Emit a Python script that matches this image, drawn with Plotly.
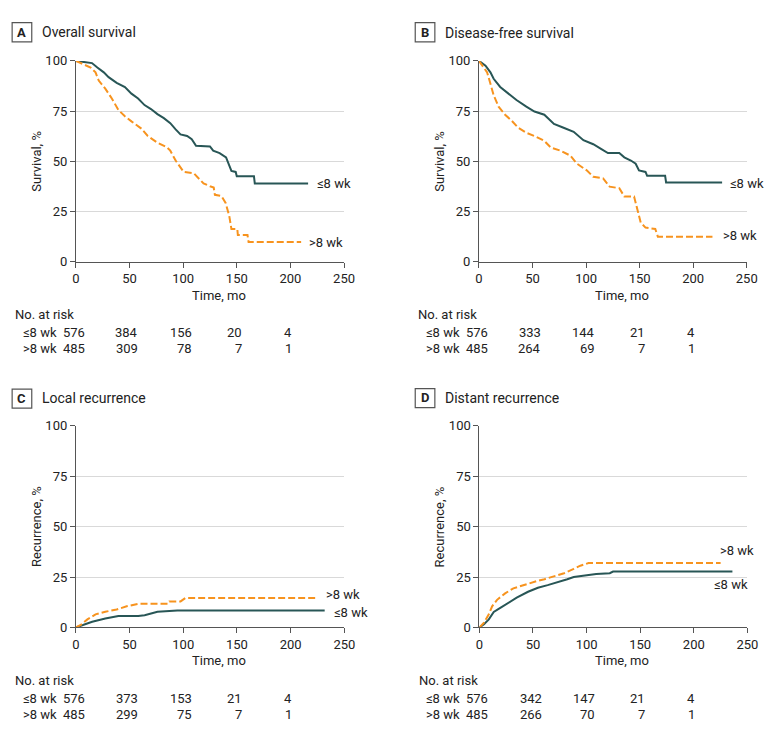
import plotly.graph_objects as go

W, H = 780, 741
FONT = "Roboto"
TXT = "#222222"
C_LE8 = "#285656"
C_GT8 = "#f7931e"

# ---------------- data ----------------
os_le8_t = [0, 9, 15, 20, 26, 30.5, 38, 45.7, 51.8, 58, 64, 70, 76, 82, 88, 93, 97.5, 103.7, 108, 112, 125, 128, 134, 140, 142.7, 145, 149, 150, 166, 166.8, 216.5]
os_le8_s = [100, 99.5, 98.9, 96.7, 94.3, 91.9, 89.1, 87, 83.7, 81.3, 78, 76, 73.5, 71.5, 69, 65.9, 63.4, 62.6, 61, 57.7, 57.4, 55.3, 54.1, 52, 48.8, 45.2, 44.7, 42.6, 42.6, 39, 39]
os_gt8_t = [0, 6, 13.7, 18.3, 21.3, 27.4, 33.5, 39.6, 45.7, 51.8, 61, 67, 76, 85, 88, 93, 99, 100.5, 110, 114.3, 119, 125, 128.5, 129.6, 135.7, 139.6, 143, 145, 150.5, 151, 160, 161, 210]
os_gt8_s = [100, 98.4, 96.7, 94.3, 90.2, 86.2, 81.3, 75.6, 72.4, 69.9, 66.3, 62.6, 59.3, 56.9, 55.3, 50.4, 46.3, 44.7, 44.0, 41.5, 39, 37.6, 37.0, 33.3, 32.7, 29.3, 22.8, 16.3, 16.3, 13.3, 13.3, 9.8, 9.8]

dfs_le8_t = [0, 6.1, 10.7, 13.7, 19.8, 27.4, 35, 44.2, 51.8, 61, 70, 79, 88.4, 97.5, 106.7, 114.3, 120.4, 131, 135.7, 141.8, 146.3, 149.4, 155.5, 157, 173.8, 174.7, 227]
dfs_le8_s = [100, 97.6, 94.3, 91.1, 87, 83.7, 80.5, 77.2, 74.8, 73.2, 68.6, 66.7, 64.7, 60.5, 58.5, 56.1, 54.1, 54.1, 52, 50.4, 48.8, 45.5, 44.7, 42.8, 42.8, 39.5, 39.5]
dfs_gt8_t = [0, 7.6, 10.7, 13.7, 18.3, 24.4, 30.5, 36.6, 44.2, 51.8, 61, 67, 76.2, 85.4, 91.5, 100.6, 106.7, 115.9, 122, 131, 135.7, 144.8, 147.9, 151, 155.5, 164.6, 167, 218]
dfs_gt8_s = [100, 94.3, 88.6, 82.9, 77.2, 73.2, 70.2, 66.7, 64.2, 62.6, 60.2, 56.9, 55.3, 52.8, 48.8, 45.5, 42.3, 41.5, 37.4, 36.6, 32.5, 32.5, 26, 19.5, 17, 16.3, 12.5, 12.5]

lr_le8_t = [0, 6.1, 15.2, 27.4, 39.6, 58, 64, 76, 91.5, 94.5, 231.7]
lr_le8_s = [0, 1.1, 2.8, 4.4, 5.7, 5.7, 6.1, 7.8, 8.1, 8.4, 8.4]
lr_gt8_t = [0, 4.6, 10.7, 18.3, 27.4, 38, 47.3, 58, 85.4, 87, 97.5, 102, 225.6]
lr_gt8_s = [0, 1.3, 4, 6.5, 7.8, 8.9, 10.5, 11.7, 11.7, 12.9, 12.9, 14.6, 14.6]

dr_le8_t = [0, 4.3, 8.8, 13.4, 19.5, 27.1, 34.8, 45.4, 54.6, 63.7, 72.9, 82, 88, 97.3, 109, 121.6, 124.7, 236]
dr_le8_s = [0, 1.6, 4, 7.7, 9.7, 12.1, 14.8, 17.7, 19.7, 21, 22.3, 23.9, 25, 25.8, 26.5, 26.9, 27.7, 27.7]
dr_gt8_t = [0, 4.3, 8.8, 11.9, 16.5, 24, 31.7, 42.4, 53, 60.7, 69.8, 79, 88, 94.2, 101.8, 225]
dr_gt8_s = [0, 2.4, 6.5, 10.5, 13.7, 16.9, 19.4, 21.3, 22.9, 23.9, 25.5, 26.9, 29, 30.6, 31.9, 31.9]

x_ticks = [0, 50, 100, 150, 200, 250]
y_ticks = [0, 25, 50, 75, 100]
risk_times = [0, 50, 100, 150, 200]
os_risk_le8 = [576, 384, 156, 20, 4]
os_risk_gt8 = [485, 309, 78, 7, 1]
dfs_risk_le8 = [576, 333, 144, 21, 4]
dfs_risk_gt8 = [485, 264, 69, 7, 1]
lr_risk_le8 = [576, 373, 153, 21, 4]
lr_risk_gt8 = [485, 299, 75, 7, 1]
dr_risk_le8 = [576, 342, 147, 21, 4]
dr_risk_gt8 = [485, 266, 70, 7, 1]

group_labels = ["≤8 wk", ">8 wk"]

panels = [
    dict(letter="A", title="Overall survival", ytitle="Survival, %",
         le8=(os_le8_t, os_le8_s), gt8=(os_gt8_t, os_gt8_s),
         risk=(os_risk_le8, os_risk_gt8),
         lab_le8=(222.8, 39.0), lab_gt8=(215.4, 9.8),
         xpx=(73.3, 346.7), ypx=(55, 260), left=8.3, top=16, ttl_y=26),
    dict(letter="B", title="Disease-free survival", ytitle="Survival, %",
         le8=(dfs_le8_t, dfs_le8_s), gt8=(dfs_gt8_t, dfs_gt8_s),
         risk=(dfs_risk_le8, dfs_risk_gt8),
         lab_le8=(232.3, 39.0), lab_gt8=(225.9, 13.2),
         xpx=(484.3, 757.3), ypx=(55, 260), left=419.3, top=16, ttl_y=26.5),
    dict(letter="C", title="Local recurrence", ytitle="Recurrence, %",
         le8=(lr_le8_t, lr_le8_s), gt8=(lr_gt8_t, lr_gt8_s),
         risk=(lr_risk_le8, lr_risk_gt8),
         lab_le8=(238.3, 7.4), lab_gt8=(231.0, 16.5),
         xpx=(73.3, 347), ypx=(427.3, 633.3), left=8.3, top=390, ttl_y=399.3),
    dict(letter="D", title="Distant recurrence", ytitle="Recurrence, %",
         le8=(dr_le8_t, dr_le8_s), gt8=(dr_gt8_t, dr_gt8_s),
         risk=(dr_risk_le8, dr_risk_gt8),
         lab_le8=(217.1, 21.5), lab_gt8=(222.6, 38.0),
         xpx=(484.7, 758), ypx=(427.3, 633.3), left=419.3, top=389.5, ttl_y=399),
]


def px(x):
    return x / W


def py(y):
    return 1 - y / H


fig = go.Figure()
annotations = []
shapes = []
layout_axes = {}

for i, p in enumerate(panels):
    n = "" if i == 0 else str(i + 1)
    xa, ya = "x" + n, "y" + n
    x0, x1 = p["xpx"]
    yt, yb = p["ypx"]
    layout_axes["xaxis" + n] = dict(
        domain=[px(x0), px(x1)], range=[0, 250], tickvals=x_ticks, anchor=ya,
        showline=True, linecolor="#555555", linewidth=1, ticks="outside", ticklen=5,
        tickcolor="#555555", showgrid=False, zeroline=False,
        tickfont=dict(family=FONT, size=13, color=TXT), fixedrange=True)
    layout_axes["yaxis" + n] = dict(
        domain=[py(yb), py(yt)], range=[0, 100], tickvals=y_ticks, anchor=xa,
        showline=True, linecolor="#555555", linewidth=1, ticks="outside", ticklen=5,
        tickcolor="#555555", showgrid=True, gridcolor="#d9d9d9", gridwidth=1,
        zeroline=False, tickfont=dict(family=FONT, size=13, color=TXT), fixedrange=True)

    fig.add_trace(go.Scatter(x=p["le8"][0], y=p["le8"][1], mode="lines", xaxis=xa, yaxis=ya,
                             line=dict(color=C_LE8, width=2), name=group_labels[0], showlegend=False))
    fig.add_trace(go.Scatter(x=p["gt8"][0], y=p["gt8"][1], mode="lines", xaxis=xa, yaxis=ya,
                             line=dict(color=C_GT8, width=2, dash="7px,3px"), name=group_labels[1],
                             showlegend=False))

    for lab, pos in ((group_labels[0], p["lab_le8"]), (group_labels[1], p["lab_gt8"])):
        annotations.append(dict(x=pos[0], y=pos[1], xref=xa, yref=ya, text=lab, showarrow=False,
                                xanchor="left", yanchor="middle",
                                font=dict(family=FONT, size=13, color=TXT)))

    L, T = p["left"], p["top"]
    shapes.append(dict(type="rect", xref="paper", yref="paper", x0=px(L), x1=px(L + 20),
                       y0=py(T + 19.5), y1=py(T), line=dict(color="#555555", width=1.2),
                       fillcolor="white"))
    annotations.append(dict(x=px(L + 10), y=py(p["ttl_y"]), xref="paper", yref="paper",
                            text="<b>" + p["letter"] + "</b>", showarrow=False,
                            xanchor="center", yanchor="middle",
                            font=dict(family=FONT, size=13, color=TXT)))
    annotations.append(dict(x=px(L + 28), y=py(p["ttl_y"]), xref="paper", yref="paper",
                            text=p["title"], showarrow=False, xanchor="left", yanchor="middle",
                            font=dict(family=FONT, size=14, color=TXT)))

    annotations.append(dict(x=px((x0 + x1) / 2 + 9), y=py(yb + 34), xref="paper", yref="paper",
                            text="Time, mo", showarrow=False, xanchor="center", yanchor="middle",
                            font=dict(family=FONT, size=13, color=TXT)))
    annotations.append(dict(x=px(x0 - 40.3), y=py((yt + yb) / 2), xref="paper", yref="paper",
                            text=p["ytitle"], showarrow=False, textangle=-90,
                            xanchor="center", yanchor="middle",
                            font=dict(family=FONT, size=13, color=TXT)))

    tl = x0 - 64
    annotations.append(dict(x=px(tl), y=py(yb + 54), xref="paper", yref="paper",
                            text="No. at risk", showarrow=False, xanchor="left", yanchor="middle",
                            font=dict(family=FONT, size=13, color=TXT)))
    rows_y = [yb + 72, yb + 89]
    for r, (lab, vals) in enumerate(zip(group_labels, p["risk"])):
        annotations.append(dict(x=px(tl + 8), y=py(rows_y[r]), xref="paper", yref="paper",
                                text=lab, showarrow=False, xanchor="left", yanchor="middle",
                                font=dict(family=FONT, size=13, color=TXT)))
        for t, v, top in zip(risk_times, vals, p["risk"][0]):
            annotations.append(dict(x=t, y=py(rows_y[r]), xref=xa, yref="paper",
                                    text=str(v), showarrow=False, xanchor="right",
                                    xshift=len(str(top)) * 3.6, yanchor="middle",
                                    font=dict(family=FONT, size=13, color=TXT)))

fig.update_layout(
    width=W, height=H, margin=dict(l=0, r=0, t=0, b=0),
    paper_bgcolor="white", plot_bgcolor="white", showlegend=False,
    font=dict(family=FONT, size=13, color=TXT),
    annotations=annotations, shapes=shapes, **layout_axes)

fig.write_html("out.html",
               post_script="document.body.style.margin='0';document.body.style.padding='0';"
                           "document.body.style.overflow='hidden';",
               config={"displayModeBar": False})
